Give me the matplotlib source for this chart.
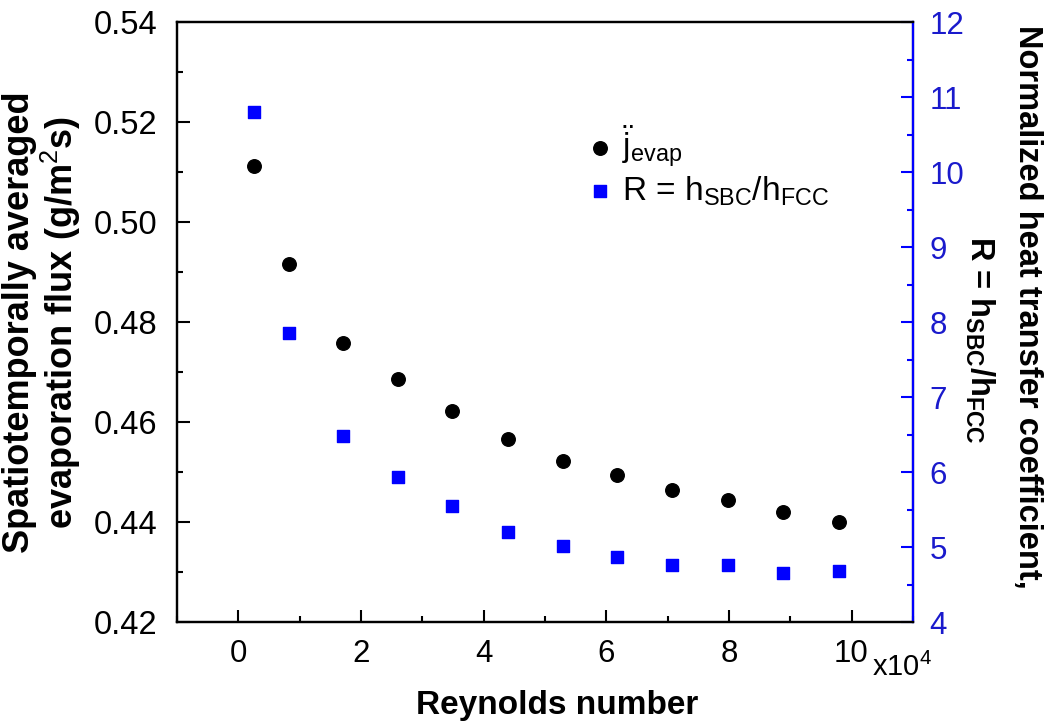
import matplotlib
matplotlib.use("Agg")
import matplotlib.pyplot as plt
from matplotlib.ticker import MultipleLocator, FormatStrFormatter

plt.rcParams['font.family'] = ['Liberation Sans', 'DejaVu Sans']
plt.rcParams['mathtext.fontset'] = 'custom'
plt.rcParams['mathtext.rm'] = 'Liberation Sans'
plt.rcParams['mathtext.it'] = 'Liberation Sans'
plt.rcParams['mathtext.bf'] = 'Liberation Sans:bold'

# Data (Reynolds number in units of 1e4)
reynolds = [0.25, 0.83, 1.71, 2.60, 3.49, 4.39, 5.29, 6.18, 7.08, 7.98, 8.88, 9.79]
j_evap = [0.5112, 0.4916, 0.4759, 0.4687, 0.4623, 0.4567, 0.4523, 0.4494,
          0.4465, 0.4444, 0.4421, 0.4401]
ratio_R = [10.80, 7.85, 6.48, 5.94, 5.55, 5.20, 5.01, 4.87, 4.76, 4.76, 4.66, 4.68]

BLUE = '#0000ff'
TBLUE = '#1a1acc'

fig = plt.figure(figsize=(10.48, 7.22), dpi=100)
ax = fig.add_axes([0.169, 0.1385, 0.702, 0.831])
ax2 = ax.twinx()

h1 = ax.scatter(reynolds, j_evap, s=95, color='black', marker='o', zorder=3,
                label=r'$\ddot{\mathrm{j}}_{\mathrm{evap}}$')
h2 = ax2.scatter(reynolds, ratio_R, s=80, color=BLUE, marker='s', zorder=3,
                 label=r'R = h$_{\mathrm{SBC}}$/h$_{\mathrm{FCC}}$')

ax.set_xlim(-1, 11)
ax.set_ylim(0.42, 0.54)
ax2.set_ylim(4, 12)

ax.xaxis.set_major_locator(MultipleLocator(2))
ax.xaxis.set_minor_locator(MultipleLocator(1))
ax.yaxis.set_major_locator(MultipleLocator(0.02))
ax.yaxis.set_minor_locator(MultipleLocator(0.01))
ax.yaxis.set_major_formatter(FormatStrFormatter('%.2f'))
ax2.yaxis.set_major_locator(MultipleLocator(1))
ax2.yaxis.set_minor_locator(MultipleLocator(0.5))

for a in (ax, ax2):
    for sp in a.spines.values():
        sp.set_linewidth(1.6)

ax.tick_params(axis='y', which='major', direction='in', length=9, width=1.5,
               labelsize=23.5, pad=14, right=False)
ax.tick_params(axis='x', which='major', direction='in', length=9, width=1.5,
               labelsize=22.5, pad=12, top=False)
ax.tick_params(axis='both', which='minor', direction='in', length=4.5, width=1.5,
               top=False, right=False)
ax2.tick_params(axis='y', which='major', direction='in', length=9, width=1.5,
                labelsize=22.5, pad=12, colors=BLUE, labelcolor=TBLUE)
ax2.tick_params(axis='y', which='minor', direction='in', length=4.5, width=1.5,
                colors=BLUE)
ax2.spines['right'].set_color(BLUE)

ax.set_xlabel('Reynolds number', fontsize=24, fontweight='bold')
ax.xaxis.set_label_coords(0.516, -0.114)
ax.set_ylabel('Spatiotemporally averaged\nevaporation flux (g/m$^{2}$s)',
              fontsize=26, fontweight='bold', labelpad=8, linespacing=1.05)

# right-hand axis title (two lines placed as in the reference)
fig.text(1028 / 1048, 1 - 307 / 722, 'Normalized heat transfer coefficient,',
         fontsize=23.5, fontweight='bold', rotation=270, ha='center', va='center')
fig.text(980 / 1048, 1 - 340 / 722,
         'R = h$_{\\mathbf{SBC}}$/h$_{\\mathbf{FCC}}$',
         fontsize=23.5, fontweight='bold', rotation=270, ha='center', va='center')

ax.text(0.985, -0.075, r'x10$^{4}$', transform=ax.transAxes, fontsize=21,
        ha='center', va='center')

ax.legend([h1, h2], [h1.get_label(), h2.get_label()], loc='upper left',
          bbox_to_anchor=(0.539, 0.853), frameon=False, fontsize=24,
          handlelength=0.8, handletextpad=0.25, labelspacing=0.15,
          borderaxespad=0)

fig.savefig('out.png', dpi=100)
